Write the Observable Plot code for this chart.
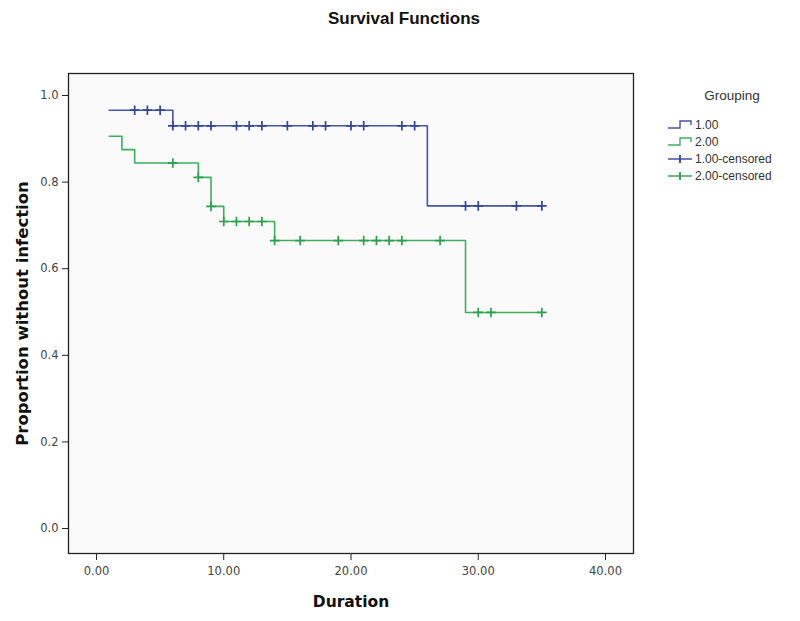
<!DOCTYPE html>
<html>
<head>
<meta charset="utf-8">
<script src="https://cdn.jsdelivr.net/npm/d3@7"></script>
<script src="https://cdn.jsdelivr.net/npm/@observablehq/plot@0.6"></script>
<style>
  body { margin: 0; background: #fff; }
  #wrap { position: relative; width: 800px; height: 621px; overflow: hidden; }
  #title { position: absolute; left: 0; width: 808px; top: 9px; text-align: center;
           font: bold 17px "Liberation Sans", Arial, sans-serif; color: #111; }
  #chart { position: absolute; left: 0; top: 0; }
  #legend { position: absolute; left: 664px; top: 84px; }
</style>
</head>
<body>
<div id="wrap">
  <div id="chart"></div>
  <div id="title">Survival Functions</div>
  <div id="legend"></div>
</div>
<script>
// ---- data ----
const groups = ["1.00", "2.00"];
const groupColors = ["#4455a8", "#3fae5e"];
const censorColors = ["#33449a", "#2f9e4e"];

// step points (time, proportion) of each survival curve
const g1Times = [1, 6, 26, 35];
const g1Surv  = [0.966, 0.930, 0.745, 0.745];
const g2Times = [1, 2, 3, 8, 9, 10, 14, 29, 35];
const g2Surv  = [0.906, 0.875, 0.844, 0.811, 0.744, 0.709, 0.665, 0.499, 0.499];

// censored observations (time, proportion)
const g1CensTimes = [3, 4, 5, 6, 7, 8, 9, 11, 12, 13, 15, 17, 18, 20, 21, 24, 25, 29, 30, 33, 35];
const g1CensSurv  = [0.966, 0.966, 0.966, 0.930, 0.930, 0.930, 0.930, 0.930, 0.930, 0.930, 0.930,
                     0.930, 0.930, 0.930, 0.930, 0.930, 0.930, 0.745, 0.745, 0.745, 0.745];
const g2CensTimes = [6, 8, 9, 10, 11, 12, 13, 14, 16, 19, 21, 22, 23, 24, 27, 30, 31, 35];
const g2CensSurv  = [0.844, 0.811, 0.744, 0.709, 0.709, 0.709, 0.709, 0.665, 0.665, 0.665, 0.665,
                     0.665, 0.665, 0.665, 0.665, 0.499, 0.499, 0.499];

const xTicks = [0, 10, 20, 30, 40];
const yTicks = [0, 0.2, 0.4, 0.6, 0.8, 1.0];
const xLabel = "Duration";
const yLabel = "Proportion without infection";
const legendTitle = "Grouping";

// ---- build tables ----
const steps = [
  ...g1Times.map((t, i) => ({group: groups[0], t, s: g1Surv[i]})),
  ...g2Times.map((t, i) => ({group: groups[1], t, s: g2Surv[i]}))
];
const cens = [
  ...g1CensTimes.map((t, i) => ({group: groups[0], t, s: g1CensSurv[i]})),
  ...g2CensTimes.map((t, i) => ({group: groups[1], t, s: g2CensSurv[i]}))
];

const tickFont = "DejaVu Sans, sans-serif";

const chart = Plot.plot({
  width: 800,
  height: 621,
  marginLeft: 68,
  marginRight: 167,
  marginTop: 73,
  marginBottom: 68,
  style: {background: "transparent", fontFamily: tickFont},
  x: {domain: [-2.2, 42.2]},
  y: {domain: [-0.0577, 1.0508]},
  color: {domain: groups, range: groupColors},
  marks: [
    Plot.frame({fill: "#fafafa", stroke: "none"}),
    Plot.line(steps, {x: "t", y: "s", z: "group", stroke: "group", curve: "step-after", strokeWidth: 1.6}),
    Plot.dot(cens.filter(d => d.group === groups[0]), {x: "t", y: "s", symbol: "plus", r: 3.2,
             stroke: censorColors[0], strokeWidth: 1.7}),
    Plot.dot(cens.filter(d => d.group === groups[1]), {x: "t", y: "s", symbol: "plus", r: 3.2,
             stroke: censorColors[1], strokeWidth: 1.7}),
    Plot.frame({stroke: "#222", strokeWidth: 1.3}),
    Plot.axisX({ticks: xTicks, tickFormat: d3.format(".2f"), tickSize: 7, tickPadding: 6,
                label: null, fontSize: 11.5, color: "#444", stroke: "#222"}),
    Plot.axisY({ticks: yTicks, tickFormat: d3.format(".1f"), tickSize: 6, tickPadding: 4,
                label: null, fontSize: 11.5, color: "#444", stroke: "#222"}),
    Plot.text([xLabel], {frameAnchor: "bottom", dy: 53, fontWeight: "bold", fontSize: 15.5,
                         fill: "#111", fontFamily: "DejaVu Sans, sans-serif"}),
    Plot.text([yLabel], {frameAnchor: "left", dx: -46, rotate: -90, textAnchor: "middle",
                         fontWeight: "bold", fontSize: 16.5,
                         fill: "#111", fontFamily: "DejaVu Sans, sans-serif"})
  ]
});
document.getElementById("chart").appendChild(chart);

// ---- legend ----
const ns = "http://www.w3.org/2000/svg";
const lg = document.createElementNS(ns, "svg");
lg.setAttribute("width", 136);
lg.setAttribute("height", 110);
lg.style.fontFamily = "Liberation Sans, Arial, sans-serif";
function el(name, attrs, text) {
  const e = document.createElementNS(ns, name);
  for (const k in attrs) e.setAttribute(k, attrs[k]);
  if (text != null) e.textContent = text;
  lg.appendChild(e);
  return e;
}
el("text", {x: 68, y: 16, "text-anchor": "middle", "font-size": 13.5, fill: "#333"}, legendTitle);
const rowY = [41, 58, 75, 92];
const items = [
  {label: groups[0], color: groupColors[0], kind: "step"},
  {label: groups[1], color: groupColors[1], kind: "step"},
  {label: groups[0] + "-censored", color: censorColors[0], kind: "cens"},
  {label: groups[1] + "-censored", color: censorColors[1], kind: "cens"}
];
items.forEach((it, i) => {
  const y = rowY[i];
  if (it.kind === "step") {
    el("path", {d: `M4,${y + 3}H16V${y - 4}H27V${y}`, fill: "none", stroke: it.color, "stroke-width": 1.4});
  } else {
    el("path", {d: `M4,${y}H28`, stroke: it.color, "stroke-width": 1.4});
    el("path", {d: `M16,${y - 4}V${y + 4}`, stroke: it.color, "stroke-width": 1.8});
  }
  el("text", {x: 31, y: y + 4, "font-size": 12, fill: "#333"}, it.label);
});
document.getElementById("legend").appendChild(lg);
</script>
</body>
</html>
